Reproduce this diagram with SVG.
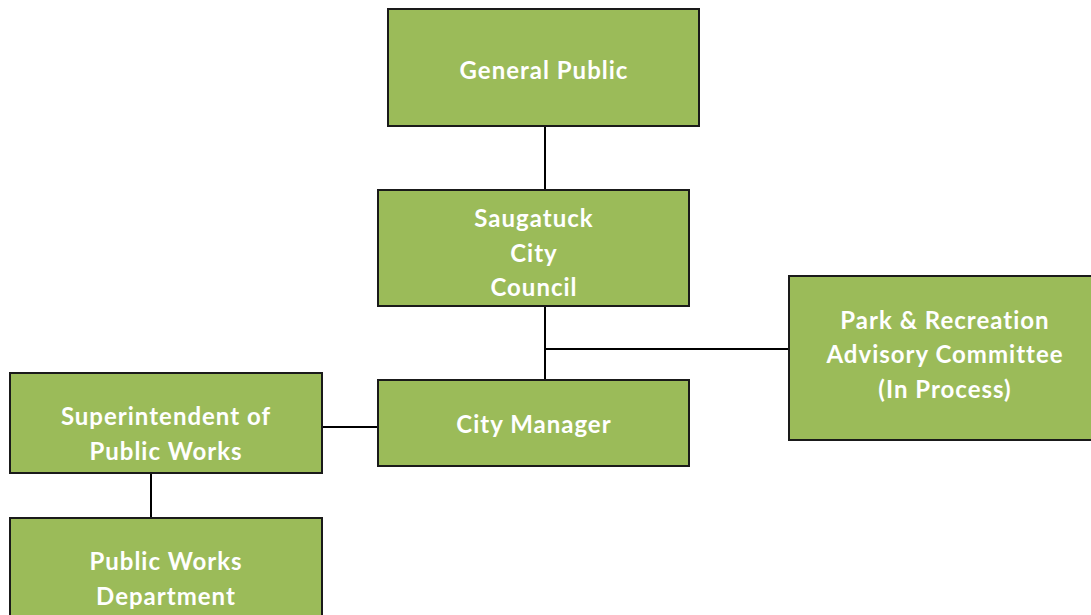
<svg xmlns="http://www.w3.org/2000/svg" width="1091" height="615" viewBox="0 0 1091 615">
<style>
.box{fill:#9BBB59;stroke:#1a1a1a;stroke-width:2}
.lbl{font-family:Lato,"Open Sans","Liberation Sans",sans-serif;font-weight:bold;font-size:24px;letter-spacing:1px;fill:#ffffff;text-anchor:middle}
.con{stroke:#000;stroke-width:2;fill:none}
</style>
<rect width="1091" height="615" fill="#ffffff"/>
<g id="connectors">
<line class="con" x1="545" y1="126" x2="545" y2="189"/>
<line class="con" x1="545" y1="307" x2="545" y2="380"/>
<line class="con" x1="545" y1="349" x2="789" y2="349"/>
<line class="con" x1="322" y1="427" x2="378" y2="427"/>
<line class="con" x1="151" y1="473" x2="151" y2="518"/>
</g>
<g id="general-public">
<rect class="box" x="388" y="9" width="311" height="117"/>
<text class="lbl" x="544" y="79">General Public</text>
</g>
<g id="city-council">
<rect class="box" x="378" y="190" width="311" height="116"/>
<text class="lbl" x="534" y="227">Saugatuck</text>
<text class="lbl" x="534" y="262">City</text>
<text class="lbl" x="534" y="296">Council</text>
</g>
<g id="city-manager">
<rect class="box" x="378" y="380" width="311" height="86"/>
<text class="lbl" x="534" y="433">City Manager</text>
</g>
<g id="park-recreation">
<rect class="box" x="789" y="276" width="311" height="164"/>
<text class="lbl" x="945" y="329">Park &amp; Recreation</text>
<text class="lbl" x="945" y="363">Advisory Committee</text>
<text class="lbl" x="945" y="398">(In Process)</text>
</g>
<g id="superintendent">
<rect class="box" x="10" y="373" width="312" height="100"/>
<text class="lbl" x="166" y="425">Superintendent of</text>
<text class="lbl" x="166" y="460">Public Works</text>
</g>
<g id="public-works-dept">
<rect class="box" x="10" y="518" width="312" height="110"/>
<text class="lbl" x="166" y="570">Public Works</text>
<text class="lbl" x="166" y="605">Department</text>
</g>
</svg>
